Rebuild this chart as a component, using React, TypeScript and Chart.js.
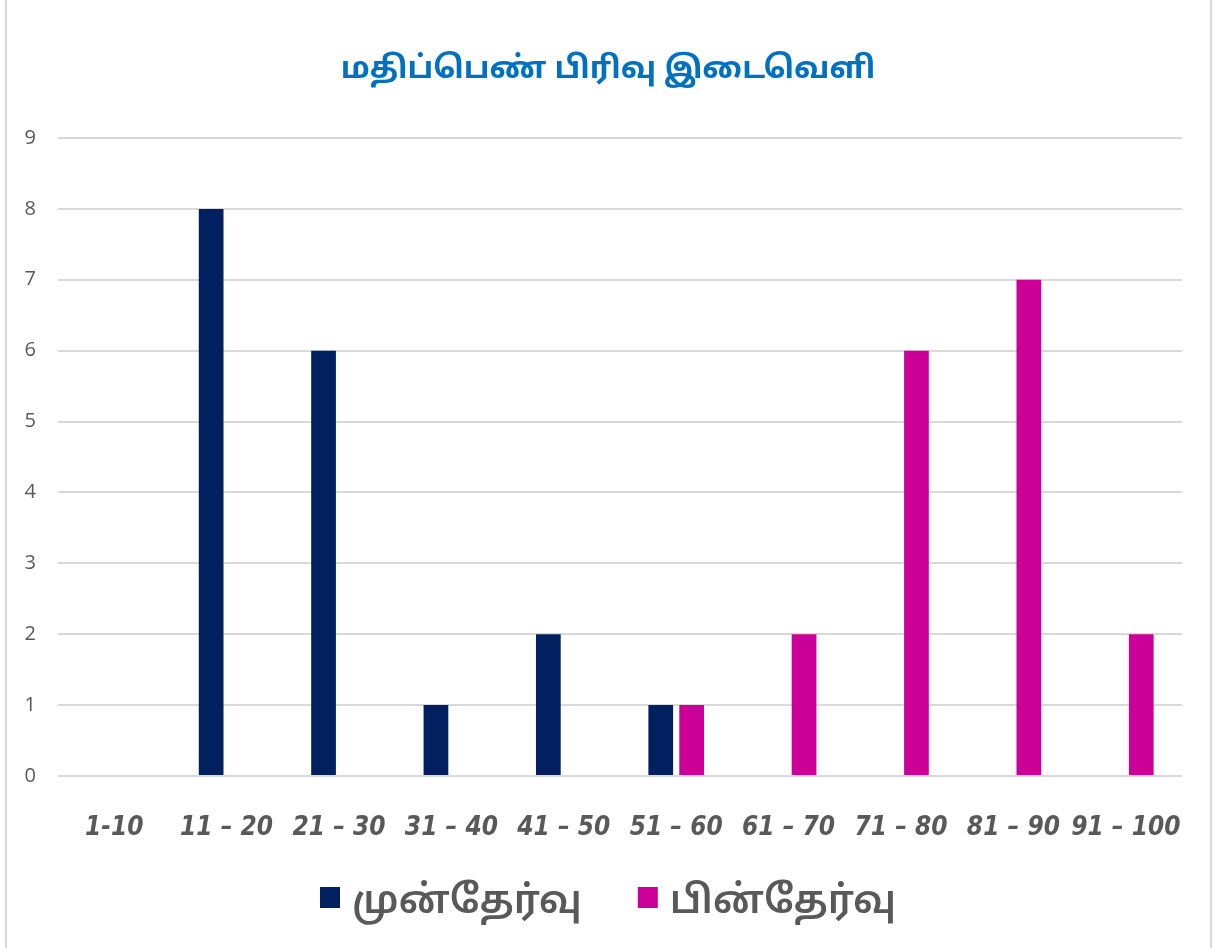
import React, { useEffect, useRef } from "react";
import { Chart, registerables } from "chart.js";

Chart.register(...registerables);

const categories = ["1-10", "11 – 20", "21 – 30", "31 – 40", "41 – 50", "51 – 60", "61 – 70", "71 – 80", "81 – 90", "91 – 100"];
const preTest = [0, 8, 6, 1, 2, 1, 0, 0, 0, 0];
const postTest = [0, 0, 0, 0, 0, 1, 2, 6, 7, 2];
const seriesNames = ["முன்தேர்வு", "பின்தேர்வு"];
const seriesColors = ["#002060", "#CC0099"];
const titleText = "மதிப்பெண் பிரிவு இடைவெளி";

const TAMIL_FONT = "'Noto Sans Tamil', 'Noto Sans', sans-serif";

const titlePlugin = {
  id: "boldTitle",
  afterDraw(chart: any) {
    const ctx = chart.ctx as CanvasRenderingContext2D;
    ctx.save();
    ctx.font = `bold 31px ${TAMIL_FONT}`;
    ctx.fillStyle = "#0070C0";
    ctx.textAlign = "center";
    ctx.textBaseline = "middle";
    ctx.fillText(titleText, chart.width / 2, 72);
    ctx.restore();
  },
};

const legendPlugin = {
  id: "customLegend",
  afterDraw(chart: any) {
    const ctx = chart.ctx as CanvasRenderingContext2D;
    ctx.save();
    ctx.font = `600 39px ${TAMIL_FONT}`;
    const box = 20;
    const boxGap = 12;
    const itemGap = 56;
    const widths = chart.data.datasets.map((d: any) => ctx.measureText(d.label).width);
    let total = 0;
    widths.forEach((w: number, i: number) => {
      total += box + boxGap + w + (i < widths.length - 1 ? itemGap : 0);
    });
    let x = chart.width / 2 - total / 2;
    const cy = 898;
    chart.data.datasets.forEach((d: any, i: number) => {
      ctx.fillStyle = d.backgroundColor;
      ctx.fillRect(x, cy - 11, box, 21);
      x += box + boxGap;
      ctx.fillStyle = "#595959";
      ctx.textAlign = "left";
      ctx.textBaseline = "alphabetic";
      ctx.fillText(d.label, x, 913);
      x += widths[i] + itemGap;
    });
    ctx.restore();
  },
};

export default function App() {
  const ref = useRef<HTMLCanvasElement>(null);
  useEffect(() => {
    document.body.style.margin = "0";
    const chart = new Chart(ref.current!, {
      type: "bar",
      data: {
        labels: categories,
        datasets: [
          { label: seriesNames[0], data: preTest, backgroundColor: seriesColors[0], borderWidth: 0 },
          { label: seriesNames[1], data: postTest, backgroundColor: seriesColors[1], borderWidth: 0 },
        ],
      },
      plugins: [titlePlugin, legendPlugin],
      options: {
        animation: false,
        responsive: false,
        maintainAspectRatio: false,
        datasets: { bar: { categoryPercentage: 0.55, barPercentage: 0.8 } },
        layout: { padding: { left: 10, right: 34, top: 138, bottom: 76 } },
        plugins: {
          title: { display: false },
          legend: { display: false },
          tooltip: { enabled: false },
        },
        scales: {
          x: {
            afterFit: (s: any) => { s.height = 96; s.paddingLeft = 0; s.paddingRight = 0; },
            grid: { display: false, drawTicks: false },
            border: { display: false },
            ticks: {
              color: "#595959",
              padding: 37,
              maxRotation: 0,
              autoSkip: false,
              font: { family: "'Liberation Sans Narrow', 'DejaVu Sans Condensed', 'Open Sans', sans-serif", size: 26, weight: "bold", style: "italic" },
            },
          },
          y: {
            min: 0,
            max: 9,
            afterFit: (s: any) => { s.width = 48; s.paddingTop = 0; s.paddingBottom = 0; },
            grid: { color: "#d9d9d9", lineWidth: 2, drawTicks: false },
            border: { display: false },
            ticks: {
              stepSize: 1,
              color: "#595959",
              padding: 22,
              font: { family: "'Open Sans', sans-serif", size: 20 },
            },
          },
        },
      },
    });
    return () => chart.destroy();
  }, []);
  return (
    <div style={{ position: "relative", width: 1216, height: 948, background: "#ffffff" }}>
      <div style={{ position: "absolute", left: 5, top: -3, width: 1203, height: 949, border: "2px solid #d9d9d9", boxSizing: "content-box" }} />
      <canvas ref={ref} width={1216} height={948} style={{ position: "absolute", left: 0, top: 0 }} />
    </div>
  );
}
